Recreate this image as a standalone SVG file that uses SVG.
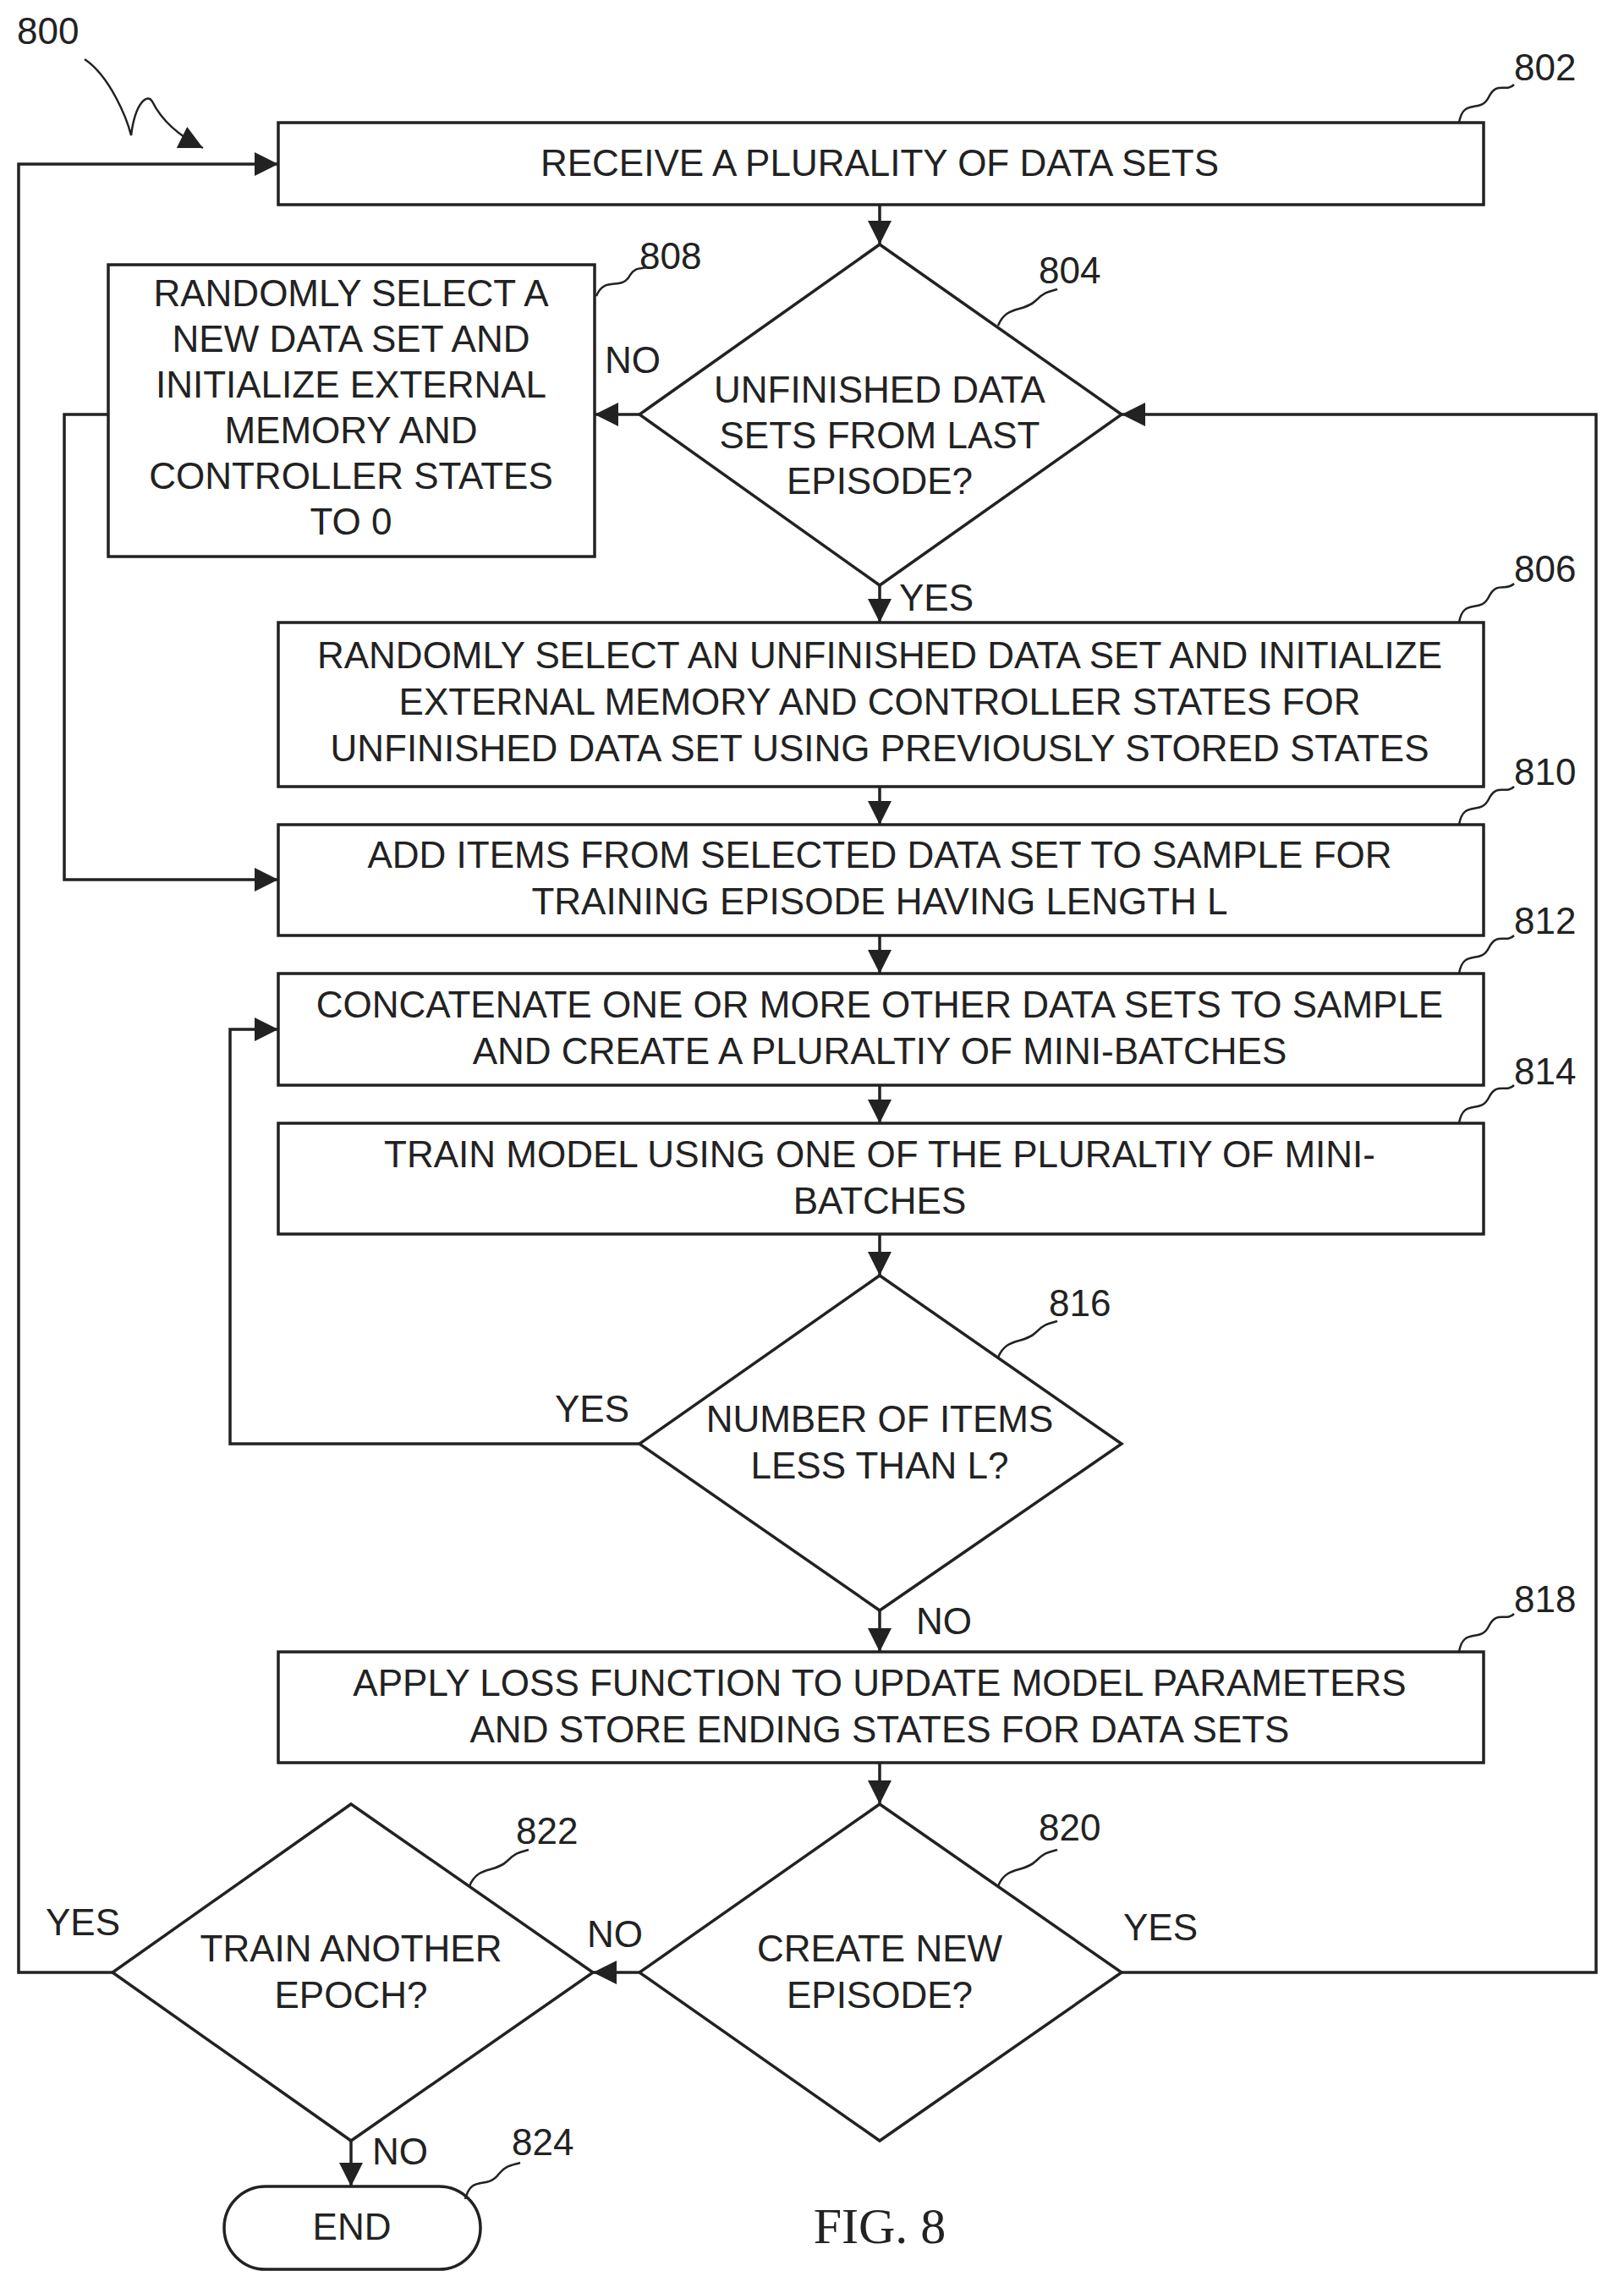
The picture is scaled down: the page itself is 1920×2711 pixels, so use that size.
<svg xmlns="http://www.w3.org/2000/svg" width="1920" height="2711" viewBox="0 0 1920 2711">
<style>
.b{fill:#fff;stroke:#222;stroke-width:3.5}
.t{font-family:"Liberation Sans",Arial,sans-serif;font-size:44px;fill:#222;text-anchor:middle}
.l{font-family:"Liberation Sans",Arial,sans-serif;font-size:44px;fill:#222}
.c{fill:none;stroke:#222;stroke-width:3.5}
.s{fill:none;stroke:#222;stroke-width:2.5}
</style>
<defs>
<marker id="m" viewBox="0 0 10 10" refX="10" refY="5" markerWidth="28" markerHeight="28" markerUnits="userSpaceOnUse" orient="auto"><path d="M0,0L10,5L0,10z" fill="#222"/></marker></defs>
<g id="connectors">
<path class="c" marker-end="url(#m)" d="M1040,242V289"/>
<path class="c" marker-end="url(#m)" d="M756,490H703"/>
<path class="c" marker-end="url(#m)" d="M1040,692V736"/>
<path class="c" marker-end="url(#m)" d="M1040,930V975"/>
<path class="c" marker-end="url(#m)" d="M128,490H76V1040H329"/>
<path class="c" marker-end="url(#m)" d="M1040,1106V1151"/>
<path class="c" marker-end="url(#m)" d="M1040,1283V1328"/>
<path class="c" marker-end="url(#m)" d="M1040,1459V1508"/>
<path class="c" marker-end="url(#m)" d="M756,1707H272V1217H329"/>
<path class="c" marker-end="url(#m)" d="M1040,1904V1953"/>
<path class="c" marker-end="url(#m)" d="M1040,2084V2133"/>
<path class="c" marker-end="url(#m)" d="M756,2332H701"/>
<path class="c" marker-end="url(#m)" d="M1326,2332H1887V490H1326"/>
<path class="c" marker-end="url(#m)" d="M133,2332H22V194H329"/>
<path class="c" marker-end="url(#m)" d="M415,2531V2585"/>
<path class="s" marker-end="url(#m)" d="M100,70C130,90 150,140 155,160C160,120 175,110 180,120C190,140 210,160 240,175"/>
</g>
<text class="l" x="715" y="441">NO</text>
<text class="l" x="1063" y="722">YES</text>
<text class="l" x="656" y="1681">YES</text>
<text class="l" x="1083" y="1932">NO</text>
<text class="l" x="54" y="2288">YES</text>
<text class="l" x="694" y="2302">NO</text>
<text class="l" x="1328" y="2294">YES</text>
<text class="l" x="440" y="2559">NO</text>
<g id="n802"><rect class="b" x="329" y="145" width="1425" height="97"/><text class="t" x="1040" y="208">RECEIVE A PLURALITY OF DATA SETS</text><path class="s" d="M1725,145C1730,115 1750,135 1760,115C1770,95 1780,110 1790,100"/><text class="l" x="1790" y="95">802</text></g>
<g id="n804"><path class="b" d="M1040,289L1326,490L1040,692L756,490Z"/><text class="t" x="1040" y="476">UNFINISHED DATA</text><text class="t" x="1040" y="530">SETS FROM LAST</text><text class="t" x="1040" y="584">EPISODE?</text><path class="s" d="M1180,385C1190,360 1210,370 1225,355C1235,345 1240,345 1250,342"/><text class="l" x="1228" y="335">804</text></g>
<g id="n808"><rect class="b" x="128" y="313" width="575" height="345"/><text class="t" x="415" y="362">RANDOMLY SELECT A</text><text class="t" x="415" y="416">NEW DATA SET AND</text><text class="t" x="415" y="470">INITIALIZE EXTERNAL</text><text class="t" x="415" y="524">MEMORY AND</text><text class="t" x="415" y="578">CONTROLLER STATES</text><text class="t" x="415" y="632">TO 0</text><path class="s" d="M705,350C715,325 735,345 745,325C752,315 758,318 765,316"/><text class="l" x="756" y="318">808</text></g>
<g id="n806"><rect class="b" x="329" y="736" width="1425" height="194"/><text class="t" x="1040" y="790">RANDOMLY SELECT AN UNFINISHED DATA SET AND INITIALIZE</text><text class="t" x="1040" y="845">EXTERNAL MEMORY AND CONTROLLER STATES FOR</text><text class="t" x="1040" y="900">UNFINISHED DATA SET USING PREVIOUSLY STORED STATES</text><path class="s" d="M1725,736C1730,706 1750,726 1760,706C1770,686 1780,700 1790,690"/><text class="l" x="1790" y="688">806</text></g>
<g id="n810"><rect class="b" x="329" y="975" width="1425" height="131"/><text class="t" x="1040" y="1026">ADD ITEMS FROM SELECTED DATA SET TO SAMPLE FOR</text><text class="t" x="1040" y="1081">TRAINING EPISODE HAVING LENGTH L</text><path class="s" d="M1725,975C1730,945 1750,965 1760,945C1770,925 1780,940 1790,930"/><text class="l" x="1790" y="928">810</text></g>
<g id="n812"><rect class="b" x="329" y="1151" width="1425" height="132"/><text class="t" x="1040" y="1203">CONCATENATE ONE OR MORE OTHER DATA SETS TO SAMPLE</text><text class="t" x="1040" y="1258">AND CREATE A PLURALTIY OF MINI-BATCHES</text><path class="s" d="M1725,1151C1730,1121 1750,1141 1760,1121C1770,1101 1780,1116 1790,1106"/><text class="l" x="1790" y="1104">812</text></g>
<g id="n814"><rect class="b" x="329" y="1328" width="1425" height="131"/><text class="t" x="1040" y="1380">TRAIN MODEL USING ONE OF THE PLURALTIY OF MINI-</text><text class="t" x="1040" y="1435">BATCHES</text><path class="s" d="M1725,1328C1730,1298 1750,1318 1760,1298C1770,1278 1780,1293 1790,1283"/><text class="l" x="1790" y="1282">814</text></g>
<g id="n816"><path class="b" d="M1040,1508L1326,1707L1040,1904L756,1707Z"/><text class="t" x="1040" y="1693">NUMBER OF ITEMS</text><text class="t" x="1040" y="1748">LESS THAN L?</text><path class="s" d="M1180,1605C1190,1580 1210,1590 1225,1575C1235,1565 1240,1565 1250,1562"/><text class="l" x="1240" y="1556">816</text></g>
<g id="n818"><rect class="b" x="329" y="1953" width="1425" height="131"/><text class="t" x="1040" y="2005">APPLY LOSS FUNCTION TO UPDATE MODEL PARAMETERS</text><text class="t" x="1040" y="2060">AND STORE ENDING STATES FOR DATA SETS</text><path class="s" d="M1725,1953C1730,1923 1750,1943 1760,1923C1770,1903 1780,1918 1790,1908"/><text class="l" x="1790" y="1906">818</text></g>
<g id="n820"><path class="b" d="M1040,2133L1326,2332L1040,2531L756,2332Z"/><text class="t" x="1040" y="2319">CREATE NEW</text><text class="t" x="1040" y="2374">EPISODE?</text><path class="s" d="M1180,2230C1190,2205 1210,2215 1225,2200C1235,2190 1240,2190 1250,2187"/><text class="l" x="1228" y="2176">820</text></g>
<g id="n822"><path class="b" d="M415,2133L701,2332L415,2531L133,2332Z"/><text class="t" x="415" y="2319">TRAIN ANOTHER</text><text class="t" x="415" y="2374">EPOCH?</text><path class="s" d="M555,2230C565,2205 585,2215 600,2200C610,2190 615,2190 625,2187"/><text class="l" x="610" y="2180">822</text></g>
<g id="n824"><rect class="b" x="265" y="2585" width="303" height="98" rx="49"/><text class="t" x="416" y="2648">END</text><path class="s" d="M550,2600C558,2570 575,2590 590,2570C598,2560 605,2560 615,2557"/><text class="l" x="605" y="2548">824</text></g>
<text x="20" y="52" class="l">800</text>
<text x="1040" y="2652" style="font-family:'Liberation Serif',serif;font-size:60px;fill:#222;text-anchor:middle">FIG. 8</text>
</svg>
